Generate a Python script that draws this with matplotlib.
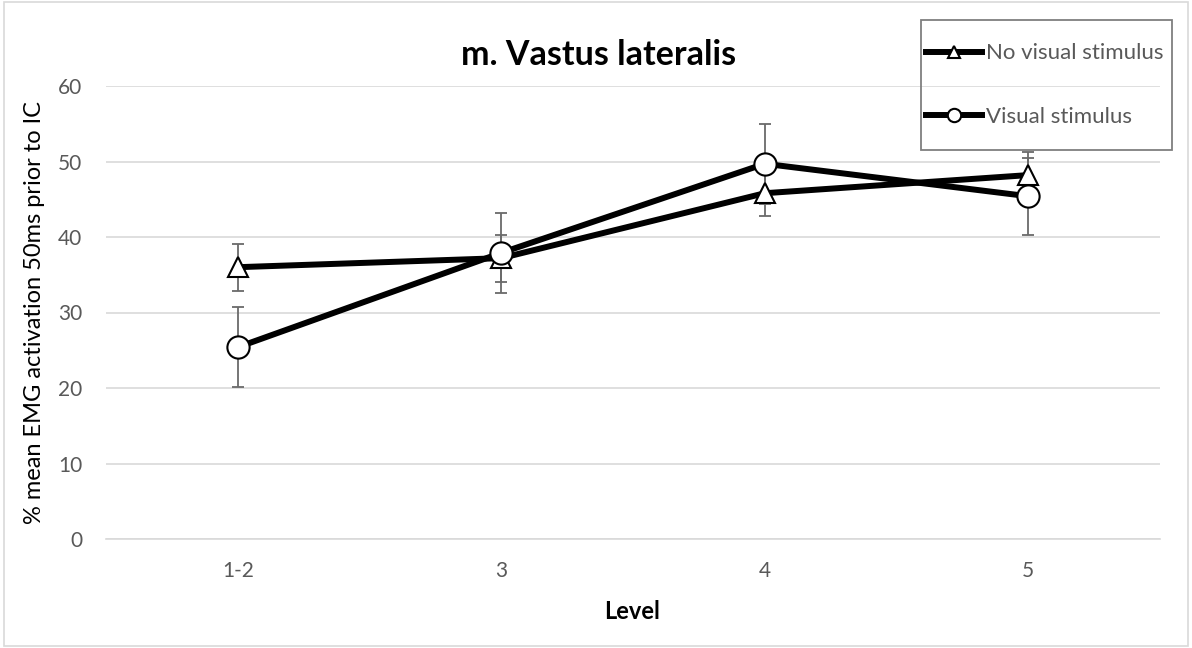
import matplotlib
matplotlib.use('Agg')
import matplotlib.pyplot as plt
from matplotlib.patches import Rectangle

plt.rcParams['font.family'] = ['Lato', 'DejaVu Sans']

# Data
levels = ['1-2', '3', '4', '5']
no_visual = [36.0, 37.2, 45.8, 48.2]
no_visual_err = [3.1, 3.1, 3.0, 3.1]
visual = [25.4, 37.9, 49.7, 45.4]
visual_err = [5.3, 5.3, 5.3, 5.1]

W, H = 1192, 648
fig = plt.figure(figsize=(W / 100, H / 100), dpi=100)
ax = fig.add_axes([106 / W, 1 - 539 / H, 1054 / W, 453 / H])

x = range(len(levels))
err_col = '#6a6a6a'
txt_col = '#595959'

# error bars first, behind the lines
ax.errorbar(x, no_visual, yerr=no_visual_err, fmt='none', ecolor=err_col,
            elinewidth=1.3, capsize=4, capthick=1.3, zorder=2)
ax.errorbar(x, visual, yerr=visual_err, fmt='none', ecolor=err_col,
            elinewidth=1.3, capsize=4, capthick=1.3, zorder=2)

ax.plot(x, no_visual, color='black', lw=4.3, marker='^', markersize=15,
        markerfacecolor='white', markeredgecolor='black', markeredgewidth=1.5,
        label='No visual stimulus', zorder=3)
ax.plot(x, visual, color='black', lw=4.3, marker='o', markersize=16,
        markerfacecolor='white', markeredgecolor='black', markeredgewidth=1.5,
        label='Visual stimulus', zorder=4)

ax.set_xlim(-0.5, len(levels) - 0.5)
ax.set_ylim(0, 60)
ax.set_yticks(range(0, 61, 10))
ax.set_xticks(list(x))
ax.set_xticklabels(levels)
ax.tick_params(axis='both', length=0, labelsize=15, labelcolor=txt_col)
ax.tick_params(axis='y', pad=17)
ax.tick_params(axis='x', pad=16)
ax.grid(axis='y', color='#d9d9d9', lw=1.2)
ax.set_axisbelow(True)
for s in ['top', 'right', 'left']:
    ax.spines[s].set_visible(False)
ax.spines['bottom'].set_color('#d9d9d9')
ax.spines['bottom'].set_linewidth(1.2)

fig.text(599 / W, 1 - 65 / H, 'm. Vastus lateralis', fontsize=24.5,
         fontweight='bold', ha='center', va='baseline')
fig.text(632 / W, 1 - 619 / H, 'Level', fontsize=17, fontweight='bold',
         ha='center', va='baseline')
ax.set_ylabel('% mean EMG activation 50ms prior to IC', fontsize=17, va='center')
ax.yaxis.set_label_coords((35 - 106) / 1054, 0.5)

# legend without its own frame, box drawn separately
leg = fig.legend(loc='center left', bbox_to_anchor=(926 / W, 1 - 85 / H),
                 fontsize=16, handlelength=2.5, handletextpad=0.2,
                 labelspacing=1.95, borderpad=0, markerscale=0.6,
                 frameon=False, borderaxespad=0)
for t in leg.get_texts():
    t.set_color(txt_col)
fig.patches.append(Rectangle((921 / W, 1 - 150 / H), 251 / W, 130 / H,
                             transform=fig.transFigure, fill=False,
                             edgecolor='#7f7f7f', lw=1.3, zorder=5))

# chart area border
fig.patches.append(Rectangle((0.003, 0.003), 0.994, 0.994, transform=fig.transFigure,
                             fill=False, edgecolor='#d9d9d9', lw=1.2))

fig.savefig('out.png', dpi=100)
